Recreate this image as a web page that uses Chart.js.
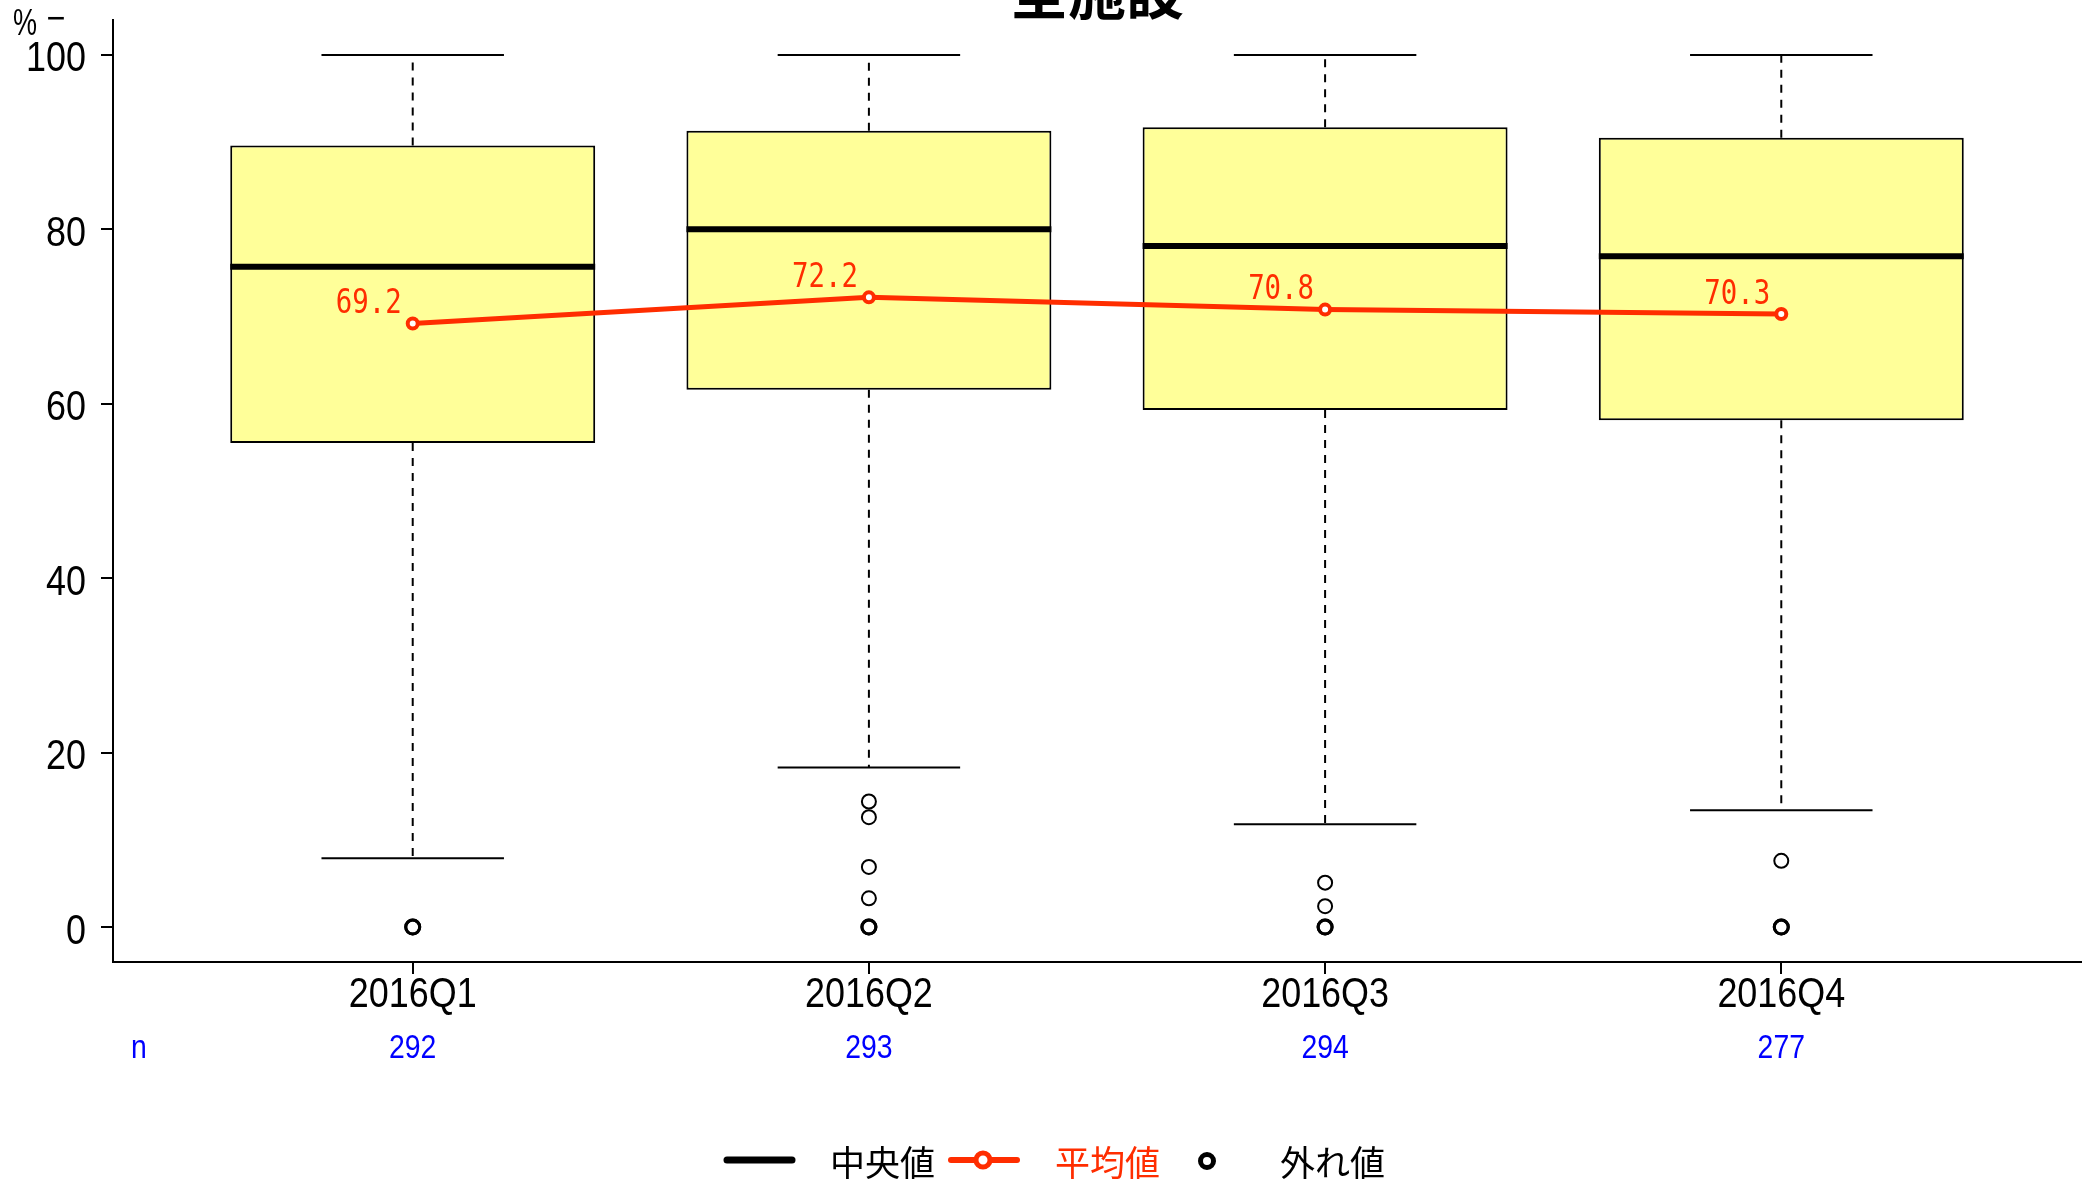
<!DOCTYPE html>
<html><head><meta charset="utf-8">
<script src="https://cdn.jsdelivr.net/npm/chart.js@4.4.1/dist/chart.umd.min.js"></script>
<style>html,body{margin:0;padding:0;background:#fff;overflow:hidden}canvas{display:block}</style>
</head><body>
<canvas id="c" width="2091" height="1181"></canvas>
<script>
const categories = ['2016Q1', '2016Q2', '2016Q3', '2016Q4'];
const nCounts = [292, 293, 294, 277];
const whiskerLow = [7.9, 18.3, 11.8, 13.4];
const q1 = [55.5, 61.6, 59.3, 58.1];
const medians = [75.7, 80.0, 78.1, 76.9];
const q3 = [89.6, 91.3, 91.7, 90.5];
const whiskerHigh = [100, 100, 100, 100];
const means = [69.2, 72.2, 70.8, 70.3];
const outliers = [[0, 0], [14.4, 12.6, 6.9, 3.3, 0, 0], [5.1, 2.4, 0, 0], [7.6, 0, 0]];
const yTicks = [0, 20, 40, 60, 80, 100];
const titleText = '全施設';
const yUnitText = '%';
const nLabel = 'n';
const legendLabels = ['中央値', '平均値', '外れ値'];

const SANS = "'Liberation Sans', Arial, sans-serif";
const CJK = "'Noto Sans CJK JP', 'Noto Sans', sans-serif";
const MONO = "'DejaVu Sans Mono', 'Liberation Mono', monospace";
const RED = '#ff2d00';
const BOX_HALF = 0.4;
const NARROW_X = 0.855;

function boxHalfPx(chart) {
  const s = chart.scales.x;
  return s.getPixelForValue(1 + BOX_HALF) - s.getPixelForValue(1);
}

const boxData = categories.map((c, i) => ({x: i + 1, y: [q1[i], q3[i]]}));
const whiskerData = categories.flatMap((c, i) => [
  {x: i + 1, y: q3[i]}, {x: i + 1, y: whiskerHigh[i]}, {x: i + 1, y: null},
  {x: i + 1, y: q1[i]}, {x: i + 1, y: whiskerLow[i]}, {x: i + 1, y: null}
]);
const capData = categories.flatMap((c, i) => [{x: i + 1, y: whiskerLow[i]}, {x: i + 1, y: whiskerHigh[i]}]);
const medianData = categories.map((c, i) => ({x: i + 1, y: medians[i]}));
const outlierData = categories.flatMap((c, i) => outliers[i].map(v => ({x: i + 1, y: v})));
const meanData = categories.map((c, i) => ({x: i + 1, y: means[i]}));

function narrowText(ctx, text, x, y, sx) {
  ctx.save();
  ctx.translate(x, y);
  ctx.scale(sx, 1);
  ctx.fillText(text, 0, 0);
  ctx.restore();
}

const extras = {
  id: 'extras',
  afterDatasetsDraw(chart) {
    const ctx = chart.ctx;
    const meta = chart.getDatasetMeta(5);
    ctx.save();
    ctx.fillStyle = RED;
    ctx.font = '33px ' + MONO;
    ctx.textAlign = 'right';
    ctx.textBaseline = 'middle';
    meta.data.forEach((p, i) => narrowText(ctx, means[i].toFixed(1), p.x - 11, p.y - 19, 0.83));
    ctx.restore();
  },
  afterDraw(chart) {
    const ctx = chart.ctx;
    const xs = chart.scales.x;
    const ys = chart.scales.y;
    ctx.save();
    ctx.fillStyle = '#000';
    ctx.font = '42px ' + SANS;
    ctx.textBaseline = 'middle';
    ctx.textAlign = 'right';
    ys.ticks.forEach(t => narrowText(ctx, String(t.value), xs.left - 27, ys.getPixelForValue(t.value) + 5, NARROW_X));
    ctx.textAlign = 'center';
    xs.ticks.forEach(t => narrowText(ctx, categories[Math.round(t.value) - 1], xs.getPixelForValue(t.value), 995, NARROW_X));
    ctx.font = 'bold 58px ' + CJK;
    ctx.textAlign = 'center';
    ctx.textBaseline = 'alphabetic';
    ctx.fillText(titleText, (chart.chartArea.left + chart.chartArea.right) / 2, 14);
    ctx.font = '36px ' + SANS;
    ctx.textAlign = 'center';
    ctx.textBaseline = 'middle';
    narrowText(ctx, yUnitText, 25, 25, 0.75);
    narrowText(ctx, '−', 56, 20, 0.9);
    ctx.fillStyle = '#0000ff';
    ctx.font = '33px ' + SANS;
    narrowText(ctx, nLabel, 139, 1049, 0.86);
    nCounts.forEach((n, i) => narrowText(ctx, String(n), xs.getPixelForValue(i + 1), 1049, 0.86));
    const ly = 1160;
    ctx.lineCap = 'round';
    ctx.lineWidth = 7;
    ctx.strokeStyle = '#000';
    ctx.beginPath(); ctx.moveTo(727, ly); ctx.lineTo(792, ly); ctx.stroke();
    ctx.strokeStyle = RED;
    ctx.lineWidth = 6;
    ctx.beginPath(); ctx.moveTo(951, ly); ctx.lineTo(1017, ly); ctx.stroke();
    ctx.lineWidth = 5;
    ctx.fillStyle = '#fff';
    ctx.beginPath(); ctx.arc(983, ly, 7, 0, Math.PI * 2); ctx.fill(); ctx.stroke();
    ctx.strokeStyle = '#000';
    ctx.beginPath(); ctx.arc(1207, ly + 1, 6.5, 0, Math.PI * 2); ctx.stroke();
    ctx.font = '35px ' + CJK;
    ctx.textAlign = 'left';
    ctx.textBaseline = 'middle';
    ctx.fillStyle = '#000';
    ctx.fillText(legendLabels[0], 830, ly + 3);
    ctx.fillStyle = RED;
    ctx.fillText(legendLabels[1], 1055, ly + 3);
    ctx.fillStyle = '#000';
    ctx.fillText(legendLabels[2], 1280, ly + 3);
    ctx.restore();
  }
};

const axisGrid = {drawOnChartArea: false, drawTicks: true, tickLength: 12, color: '#000', lineWidth: 2, offset: false};
const axisBorder = {display: true, color: '#000', width: 2};

function outlierWidth(c) {
  const r = c.raw;
  if (!r) return 2;
  const dup = outlierData.filter(o => o.x === r.x && o.y === r.y).length;
  return dup > 1 ? 3 : 2;
}

new Chart(document.getElementById('c'), {
  type: 'bar',
  data: {
    datasets: [
      {type: 'bar', data: boxData, backgroundColor: '#ffff99', borderColor: '#000', borderWidth: 2,
       borderSkipped: false, categoryPercentage: 1, barPercentage: 2 * BOX_HALF, order: 6},
      {type: 'scatter', data: whiskerData, showLine: true, spanGaps: false, borderColor: '#000',
       borderWidth: 2, borderDash: [8, 7], pointRadius: 0, order: 5},
      {type: 'scatter', data: capData, pointStyle: 'line', pointRadius: c => boxHalfPx(c.chart) / 2,
       pointBorderWidth: 2, pointBorderColor: '#000', borderColor: '#000', order: 4},
      {type: 'scatter', data: medianData, pointStyle: 'line', pointRadius: c => boxHalfPx(c.chart),
       pointBorderWidth: 6, pointBorderColor: '#000', borderColor: '#000', order: 3},
      {type: 'scatter', data: outlierData, pointStyle: 'circle', pointRadius: 7, pointBorderWidth: outlierWidth,
       pointBorderColor: '#000', pointBackgroundColor: 'rgba(0,0,0,0)', borderColor: '#000', order: 2},
      {type: 'scatter', data: meanData, showLine: true, borderColor: RED, borderWidth: 5,
       pointRadius: 5, pointBorderWidth: 4, pointBorderColor: RED, pointBackgroundColor: '#fff', order: 1}
    ]
  },
  options: {
    responsive: false,
    animation: false,
    events: [],
    devicePixelRatio: 1,
    layout: {padding: {left: 0, top: 20, right: 2, bottom: 139}},
    plugins: {legend: {display: false}, tooltip: {enabled: false}, title: {display: false}},
    scales: {
      x: {
        type: 'linear', min: 0.343, max: 4.657, offset: false,
        afterBuildTicks: s => { s.ticks = categories.map((c, i) => ({value: i + 1})); },
        afterFit: s => { s.height = 80; },
        grid: axisGrid, border: axisBorder,
        ticks: {display: false, autoSkip: false, maxRotation: 0}
      },
      y: {
        type: 'linear', min: -4, max: 104,
        afterBuildTicks: s => { s.ticks = yTicks.map(v => ({value: v})); },
        afterFit: s => { s.width = 113; },
        grid: axisGrid, border: axisBorder,
        ticks: {display: false}
      }
    }
  },
  plugins: [extras]
});
</script>
</body></html>
